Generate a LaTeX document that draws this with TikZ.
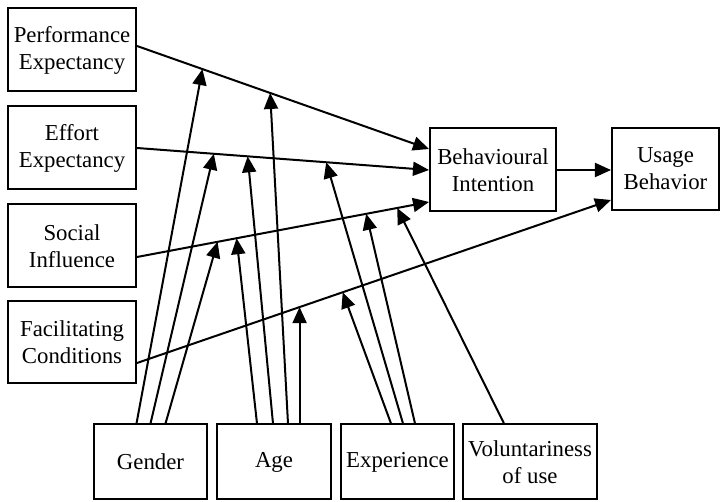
\documentclass[tikz,border=0pt]{standalone}
\usepackage{fontspec}
\setmainfont{Liberation Serif}
\usetikzlibrary{arrows.meta,calc}
\tikzset{
  box/.style={draw,line width=1pt,align=center,inner sep=1pt,font=\fontsize{11.4}{13.5}\selectfont},
  arr/.style={line width=1pt,-{Triangle[length=8pt,width=7pt]}}
}
\begin{document}
\begin{tikzpicture}[x=0.5pt,y=-0.5pt]
\useasboundingbox (0,0) rectangle (720,502);
\node[box,minimum width=64pt,minimum height=41.5pt] (PE) at (72,50) {Performance\\Expectancy};
\node[box,minimum width=64pt,minimum height=41.5pt] (EE) at (72,148) {Effort\\Expectancy};
\node[box,minimum width=64pt,minimum height=41.5pt] (SI) at (72,246) {Social\\Influence};
\node[box,minimum width=64pt,minimum height=41pt] (FC) at (72,342) {Facilitating\\Conditions};
\node[box,minimum width=63pt,minimum height=41.5pt] (BI) at (493,170) {Behavioural\\Intention};
\node[box,minimum width=53.5pt,minimum height=41pt] (UB) at (665.5,169) {Usage\\Behavior};
\node[box,minimum width=56.5pt,minimum height=37.5pt] (G) at (150.5,462) {Gender};
\node[box,minimum width=57pt,minimum height=37.5pt] (A) at (274,462) {Age};
\node[box,minimum width=56.5pt,minimum height=37.5pt] (E) at (397.5,462) {Experience};
\node[box,minimum width=67pt,minimum height=37.5pt] (V) at (530,462) {Voluntariness\\of use};

\coordinate (pe0) at ([yshift=2pt]PE.east);
\coordinate (pe1) at ([yshift=10.5pt]BI.west);
\coordinate (ee0) at (EE.east);
\coordinate (ee1) at (BI.west);
\coordinate (si0) at ([yshift=-5.5pt]SI.east);
\coordinate (si1) at ([yshift=-16pt]BI.west);
\coordinate (fc0) at ([yshift=-10.5pt]FC.east);
\coordinate (fc1) at ([yshift=-15.5pt]UB.west);
\coordinate (fcA) at ($(fc0)!0.343!(fc1)$);
\draw[arr] (pe0) -- (pe1);
\draw[arr] (ee0) -- (ee1);
\draw[arr] (si0) -- (si1);
\draw[arr] (fc0) -- (fc1);
\draw[arr] (BI.east) -- (BI.east -| UB.west);

\draw[arr] ([xshift=-7pt]G.north) -- ($(pe0)!0.224!(pe1)$);
\draw[arr] (G.north) -- ($(ee0)!0.263!(ee1)$);
\draw[arr] ([xshift=7.5pt]G.north) -- ($(si0)!0.276!(si1)$);

\draw[arr] ([xshift=-8.5pt]A.north) -- ($(si0)!0.341!(si1)$);
\draw[arr] ([xshift=-0.5pt]A.north) -- ($(ee0)!0.379!(ee1)$);
\draw[arr] ([xshift=7pt]A.north) -- ($(pe0)!0.456!(pe1)$);
\draw[arr] (fcA |- A.north) -- (fcA);

\draw[arr] ([xshift=-3.25pt]E.north) -- ($(fc0)!0.434!(fc1)$);
\draw[arr] ([xshift=2.75pt]E.north) -- ($(ee0)!0.648!(ee1)$);
\draw[arr] ([xshift=8.75pt]E.north) -- ($(si0)!0.785!(si1)$);

\draw[arr] ([xshift=-13pt]V.north) -- ($(si0)!0.891!(si1)$);
\end{tikzpicture}
\end{document}
